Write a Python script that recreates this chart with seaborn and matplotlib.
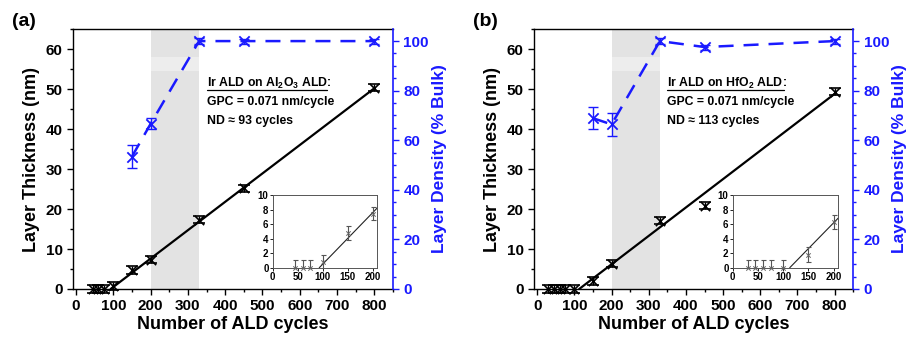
import numpy as np
import pandas as pd
import matplotlib
matplotlib.use("Agg")
import matplotlib.pyplot as plt
from matplotlib.ticker import MultipleLocator
import seaborn as sns

# ---------------- data ----------------
# panel (a): Ir ALD on Al2O3 ALD
a_cycles = [45, 60, 75, 100, 150, 200, 330, 450, 800]
a_thick = [0.0, 0.0, 0.0, 0.8, 4.7, 7.3, 17.3, 25.2, 50.3]
a_thick_err = [0.9, 0.9, 0.9, 1.0, 1.0, 0.9, 0.9, 0.9, 0.9]
a_fit_x = [93, 800]
a_fit_y = [0.0, 50.2]
a_dens_cycles = [150, 200, 330, 450, 800]
a_density = [53.4, 66.6, 100.0, 100.0, 100.0]
a_density_err = [4.6, 2.2, 1.2, 1.0, 1.0]
a_inset_fit_x = [93, 210]
a_inset_fit_y = [0.0, 8.3]
a_inset_cycles = [45, 60, 75, 100, 150, 200]
a_inset_thick = [0.0, 0.0, 0.0, 0.8, 4.8, 7.4]
a_inset_err = [1.0, 1.0, 1.0, 1.0, 1.0, 0.9]

# panel (b): Ir ALD on HfO2 ALD
b_cycles = [30, 45, 60, 75, 100, 150, 200, 330, 450, 800]
b_thick = [0.0, 0.0, 0.0, 0.0, 0.0, 2.0, 6.3, 17.1, 20.8, 49.3]
b_thick_err = [0.9, 0.9, 0.9, 0.9, 0.9, 1.0, 0.9, 0.9, 0.9, 0.9]
b_fit_x = [113, 800]
b_fit_y = [0.0, 48.8]
b_dens_cycles = [150, 200, 330, 450, 800]
b_density = [68.9, 66.4, 100.0, 97.6, 100.0]
b_density_err = [4.4, 4.6, 1.2, 1.0, 1.0]
b_inset_fit_x = [113, 210]
b_inset_fit_y = [0.0, 6.9]
b_inset_cycles = [30, 45, 60, 75, 100, 150, 200]
b_inset_thick = [0.0, 0.0, 0.0, 0.0, 0.0, 1.8, 6.3]
b_inset_err = [1.0, 1.0, 1.0, 1.0, 1.0, 1.0, 1.0]

shade_range = [200, 330]

# ---------------- style ----------------
sns.set_theme(style="ticks")
plt.rcParams['font.family'] = ['Liberation Sans', 'DejaVu Sans']
plt.rcParams['font.weight'] = 'bold'
plt.rcParams['axes.labelweight'] = 'bold'
plt.rcParams['text.color'] = 'black'
plt.rcParams['axes.labelcolor'] = 'black'
plt.rcParams['axes.edgecolor'] = 'black'
plt.rcParams['xtick.color'] = 'black'
plt.rcParams['ytick.color'] = 'black'
plt.rcParams['mathtext.fontset'] = 'custom'
plt.rcParams['mathtext.rm'] = 'Liberation Sans:bold'
plt.rcParams['mathtext.bf'] = 'Liberation Sans:bold'
plt.rcParams['mathtext.it'] = 'Liberation Sans:bold'
plt.rcParams['mathtext.default'] = 'bf'

BLUE = '#1a1aff'

fig = plt.figure(figsize=(9.07, 3.38), dpi=100)
underline_targets = []


def panel(rect, inset_rect, label, cyc, th, the, fx, fy, dc, dn, dne,
          icyc, ith, ierr, ifx, ify, title, nd):
    ax = fig.add_axes(rect)
    ax.axvspan(shade_range[0], shade_range[1], color='#e3e3e3', lw=0, zorder=0)
    ax.axvspan(shade_range[0], shade_range[1], ymin=54.5 / 65, ymax=58 / 65,
               color='#ededed', lw=0, zorder=0)
    sns.lineplot(x=fx, y=fy, ax=ax, color='black', lw=1.6, zorder=3)
    ax.errorbar(cyc, th, yerr=the, fmt='none', ecolor='black', elinewidth=1.0,
                capsize=4, capthick=1.2, zorder=4, clip_on=False)
    sns.scatterplot(x=cyc, y=th, ax=ax, marker='x', color='black', s=45,
                    linewidth=1.2, zorder=5, clip_on=False)
    ax.set_xlim(-8, 850)
    ax.set_ylim(0, 65)
    ax.xaxis.set_major_locator(MultipleLocator(100))
    ax.xaxis.set_minor_locator(MultipleLocator(50))
    ax.yaxis.set_major_locator(MultipleLocator(10))
    ax.yaxis.set_minor_locator(MultipleLocator(5))
    ax.tick_params(axis='both', which='major', labelsize=11, length=4,
                   width=1.0, direction='out', colors='black')
    ax.tick_params(axis='both', which='minor', length=2.5, width=1.0,
                   direction='out', colors='black')
    for t in ax.get_xticklabels() + ax.get_yticklabels():
        t.set_fontweight('bold')
    ax.set_xlabel('Number of ALD cycles', fontsize=13, fontweight='bold',
                  labelpad=2)
    ax.set_ylabel('Layer Thickness (nm)', fontsize=13, fontweight='bold',
                  labelpad=4)
    for s in ax.spines.values():
        s.set_linewidth(1.0)
        s.set_color('black')
    ax.spines['right'].set_visible(False)

    ax2 = ax.twinx()
    sns.lineplot(x=dc, y=dn, ax=ax2, color=BLUE, lw=1.8, zorder=3)
    ax2.lines[-1].set_dashes([6, 4])
    ax2.errorbar(dc, dn, yerr=dne, fmt='none', ecolor=BLUE, elinewidth=1.0,
                 capsize=3.5, capthick=1.0, zorder=4, clip_on=False)
    sns.scatterplot(x=dc, y=dn, ax=ax2, marker='x', color=BLUE, s=55,
                    linewidth=1.3, zorder=5, clip_on=False)
    ax2.set_ylim(0, 104.85)
    ax2.yaxis.set_major_locator(MultipleLocator(20))
    ax2.yaxis.set_minor_locator(MultipleLocator(5))
    ax2.tick_params(axis='y', which='major', labelsize=11, length=4,
                    width=1.0, colors=BLUE, direction='out')
    ax2.tick_params(axis='y', which='minor', length=2.5, width=1.0,
                    colors=BLUE, direction='out')
    for t in ax2.get_yticklabels():
        t.set_fontweight('bold')
    ax2.set_ylabel('Layer Density (% Bulk)', fontsize=12.5, fontweight='bold',
                   color=BLUE, labelpad=2)
    ax2.spines['right'].set_color(BLUE)
    ax2.spines['right'].set_linewidth(1.2)
    for k in ['left', 'top', 'bottom']:
        ax2.spines[k].set_visible(False)

    t1 = ax.text(350, 51.4, title, fontsize=8.8, fontweight='bold',
                 va='center', ha='left', zorder=6)
    ax.text(350, 46.7, 'GPC = 0.071 nm/cycle', fontsize=8.8, fontweight='bold',
            va='center', ha='left', zorder=6)
    ax.text(350, 42.1, 'ND \u2248 ' + nd + ' cycles', fontsize=8.8,
            fontweight='bold', va='center', ha='left', zorder=6)
    underline_targets.append((ax, t1))

    fig.text(rect[0] - 0.067, 0.935, label, fontsize=14, fontweight='bold',
             ha='left', va='center')

    ins = fig.add_axes(inset_rect)
    ins.set_facecolor('white')
    sns.lineplot(x=ifx, y=ify, ax=ins, color='#222222', lw=0.8)
    ins.errorbar(icyc, ith, yerr=ierr, fmt='none', ecolor='#555555',
                 elinewidth=0.8, capsize=1.8, capthick=0.8, clip_on=True)
    sns.scatterplot(x=icyc, y=ith, ax=ins, marker='x', color='#666666', s=10,
                    linewidth=0.7, zorder=5, clip_on=False)
    ins.set_xlim(0, 209)
    ins.set_ylim(0, 10)
    ins.xaxis.set_major_locator(MultipleLocator(50))
    ins.yaxis.set_major_locator(MultipleLocator(2))
    ins.tick_params(axis='both', which='major', labelsize=7, length=2,
                    width=0.6, pad=1, direction='out', colors='black')
    for t in ins.get_xticklabels() + ins.get_yticklabels():
        t.set_fontweight('bold')
    for s in ins.spines.values():
        s.set_color('#555555')
        s.set_linewidth(0.7)
    return ax


panel([0.0805, 0.145, 0.3528, 0.769], [0.3007, 0.208, 0.1153, 0.215], '(a)',
      a_cycles, a_thick, a_thick_err, a_fit_x, a_fit_y,
      a_dens_cycles, a_density, a_density_err,
      a_inset_cycles, a_inset_thick, a_inset_err, a_inset_fit_x, a_inset_fit_y,
      r'Ir ALD on Al$_2$O$_3$ ALD', '93')
panel([0.589, 0.145, 0.3517, 0.769], [0.8078, 0.208, 0.1164, 0.215], '(b)',
      b_cycles, b_thick, b_thick_err, b_fit_x, b_fit_y,
      b_dens_cycles, b_density, b_density_err,
      b_inset_cycles, b_inset_thick, b_inset_err, b_inset_fit_x, b_inset_fit_y,
      r'Ir ALD on HfO$_2$ ALD', '113')

# underline the titles, then add the colon after the underline
fig.canvas.draw()
renderer = fig.canvas.get_renderer()
for ax, t in underline_targets:
    bb = t.get_window_extent(renderer=renderer)
    inv = ax.transData.inverted()
    (x0, y0), (x1, _) = inv.transform([[bb.x0, bb.y0 + 1.5], [bb.x1, bb.y0 + 1.5]])
    ax.plot([x0, x1], [y0, y0], color='black', lw=0.9, zorder=6)
    ax.text(x1 - 1, 51.4, ':', fontsize=8.8, fontweight='bold', va='center',
            ha='left', zorder=6)

fig.savefig('out.png', dpi=100)
